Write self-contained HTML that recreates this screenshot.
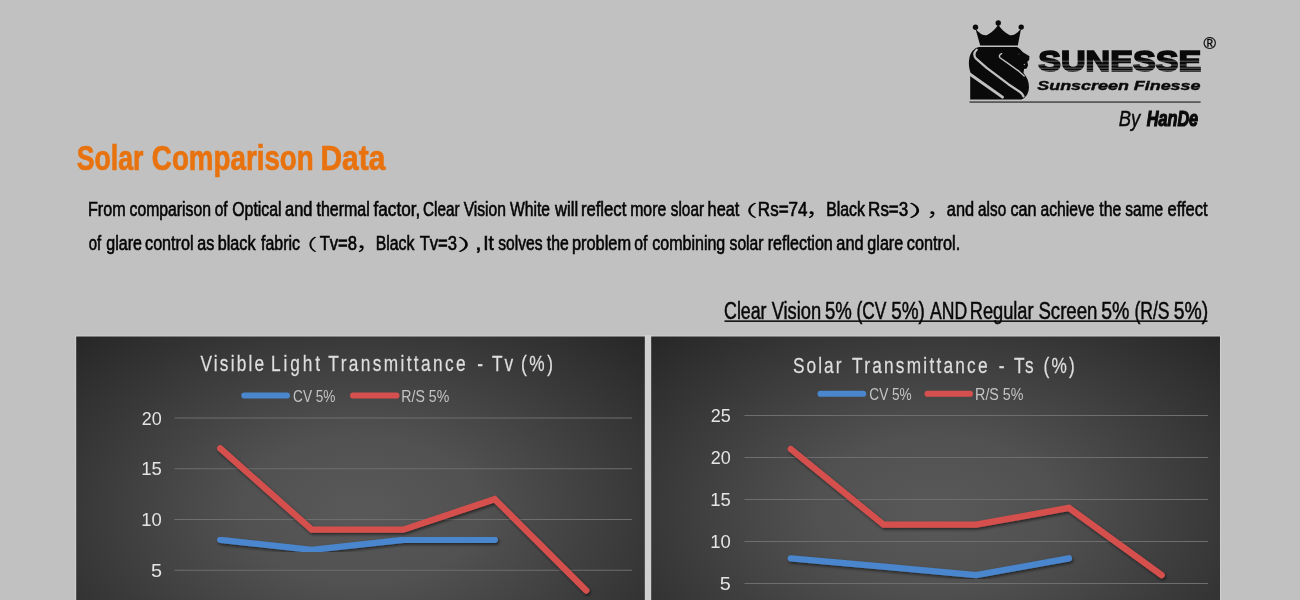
<!DOCTYPE html>
<html lang="en"><head><meta charset="utf-8"><title>Solar Comparison Data</title>
<style>
html,body{margin:0;padding:0;background:#c1c1c1;}
body{width:1300px;height:600px;overflow:hidden;position:relative;font-family:"Liberation Sans","Noto Sans CJK SC",sans-serif;}
svg{position:absolute;left:0;top:0;display:block;}
svg text{font-family:"Liberation Sans","Noto Sans CJK SC",sans-serif;white-space:pre;}
</style></head><body>
<svg width="1300" height="600" viewBox="0 0 1300 600">
<rect width="1300" height="600" fill="#c1c1c1"/>
<g id="logo">
<path fill="#0a0a0a" d="M975.4,28.6 C979,33.5 984,36.6 987.5,34.8 C992,32.6 996,28.5 998.25,24.6 C1000.5,28.5 1004.5,32.6 1009,34.8 C1012.5,36.6 1017.5,33.5 1021.1,28.6 L1017.8,45.6 L980.2,45.6 Z"/>
<circle cx="975.5" cy="27.3" r="2.7" fill="#0a0a0a"/>
<circle cx="998.25" cy="23.0" r="2.7" fill="#0a0a0a"/>
<circle cx="1021.2" cy="27.1" r="2.7" fill="#0a0a0a"/>
<g transform="translate(965,40) scale(0.10835)">
<path fill="#0a0a0a" d="M130,65 L480,65 C505,78 520,100 535,112 L595,150 L592,185 L575,200 L582,232 L570,262 L545,268 L540,305 C575,345 592,390 590,440 C588,490 565,530 520,550 L48,550 L48,322 L58,318 C38,270 30,220 40,170 C50,110 90,70 130,65 Z"/>
<path fill="none" stroke="#c1c1c1" stroke-width="21" stroke-linecap="round" stroke-linejoin="round" d="M108,90 C84,112 80,142 100,170 L200,258 L400,408 L505,478 C525,492 535,503 540,520"/>
<path fill="none" stroke="#c1c1c1" stroke-width="27" stroke-linecap="round" d="M50,318 L346,527"/>
<path fill="none" stroke="#c1c1c1" stroke-width="13" stroke-linecap="round" stroke-linejoin="round" d="M338,126 C316,136 312,152 326,166 L400,218 L500,290 L546,332"/>
<circle cx="498" cy="130" r="6" fill="#555"/><circle cx="548" cy="226" r="7" fill="#999"/>
</g>
<rect x="969.5" y="101.55" width="231.1" height="1.0" fill="#0a0a0a"/>
<text x="1038.22" y="71.20" font-size="29.6" textLength="162.91" lengthAdjust="spacingAndGlyphs" fill="#0a0a0a" font-weight="700" stroke="#0a0a0a" stroke-width="1.7" stroke-linejoin="miter">SUNESSE</text>
<rect x="1036" y="60.8" width="166" height="0.6" fill="#c1c1c1" opacity="0.75"/>
<rect x="1036" y="64.7" width="166" height="0.6" fill="#c1c1c1" opacity="0.75"/>
<rect x="1036" y="67.8" width="166" height="0.6" fill="#c1c1c1" opacity="0.75"/>
<rect x="1036" y="70.3" width="166" height="0.5" fill="#c1c1c1" opacity="0.75"/>
<text x="1203.44" y="48.90" font-size="16.6" textLength="12.52" lengthAdjust="spacingAndGlyphs" fill="#0a0a0a" stroke="#0a0a0a" stroke-width="0.3">®</text>
<text x="1037.28" y="89.60" font-size="13.0" textLength="163.22" lengthAdjust="spacingAndGlyphs" fill="#0a0a0a" font-weight="700" font-style="italic" stroke="#0a0a0a" stroke-width="0.4">Sunscreen Finesse</text>
<text x="1118.63" y="126.20" font-size="22.3" textLength="21.54" lengthAdjust="spacingAndGlyphs" fill="#0a0a0a" font-style="italic" stroke="#0a0a0a" stroke-width="0.45">By</text>
<text x="1146.71" y="125.70" font-size="21.2" textLength="51.44" lengthAdjust="spacingAndGlyphs" fill="#0a0a0a" font-weight="700" font-style="italic" stroke="#0a0a0a" stroke-width="1.2">HanDe</text>
</g>
<text x="76.73" y="170.00" font-size="35.5" textLength="66.67" lengthAdjust="spacingAndGlyphs" fill="#e8720e" font-weight="700" stroke="#e8720e" stroke-width="0.7">Solar</text>
<text x="151.86" y="170.00" font-size="35.5" textLength="161.86" lengthAdjust="spacingAndGlyphs" fill="#e8720e" font-weight="700" stroke="#e8720e" stroke-width="0.7">Comparison</text>
<text x="320.50" y="170.00" font-size="35.5" textLength="64.81" lengthAdjust="spacingAndGlyphs" fill="#e8720e" font-weight="700" stroke="#e8720e" stroke-width="0.7">Data</text>
<g id="para">
<text x="87.98" y="215.75" font-size="20" textLength="37.58" lengthAdjust="spacingAndGlyphs" fill="#050505" stroke="#050505" stroke-width="0.62">From</text>
<text x="129.53" y="215.75" font-size="20" textLength="81.49" lengthAdjust="spacingAndGlyphs" fill="#050505" stroke="#050505" stroke-width="0.62">comparison</text>
<text x="214.75" y="215.75" font-size="20" textLength="12.93" lengthAdjust="spacingAndGlyphs" fill="#050505" stroke="#050505" stroke-width="0.62">of</text>
<text x="232.25" y="215.75" font-size="20" textLength="49.31" lengthAdjust="spacingAndGlyphs" fill="#050505" stroke="#050505" stroke-width="0.62">Optical</text>
<text x="285.06" y="215.75" font-size="20" textLength="27.25" lengthAdjust="spacingAndGlyphs" fill="#050505" stroke="#050505" stroke-width="0.62">and</text>
<text x="316.51" y="215.75" font-size="20" textLength="53.31" lengthAdjust="spacingAndGlyphs" fill="#050505" stroke="#050505" stroke-width="0.62">thermal</text>
<text x="373.51" y="215.75" font-size="20" textLength="46.75" lengthAdjust="spacingAndGlyphs" fill="#050505" stroke="#050505" stroke-width="0.62">factor,</text>
<text x="422.97" y="215.75" font-size="20" textLength="36.53" lengthAdjust="spacingAndGlyphs" fill="#050505" stroke="#050505" stroke-width="0.62">Clear</text>
<text x="463.68" y="215.75" font-size="20" textLength="42.33" lengthAdjust="spacingAndGlyphs" fill="#050505" stroke="#050505" stroke-width="0.62">Vision</text>
<text x="509.93" y="215.75" font-size="20" textLength="40.01" lengthAdjust="spacingAndGlyphs" fill="#050505" stroke="#050505" stroke-width="0.62">White</text>
<text x="555.02" y="215.75" font-size="20" textLength="23.09" lengthAdjust="spacingAndGlyphs" fill="#050505" stroke="#050505" stroke-width="0.62">will</text>
<text x="580.89" y="215.75" font-size="20" textLength="45.48" lengthAdjust="spacingAndGlyphs" fill="#050505" stroke="#050505" stroke-width="0.62">reflect</text>
<text x="630.20" y="215.75" font-size="20" textLength="36.00" lengthAdjust="spacingAndGlyphs" fill="#050505" stroke="#050505" stroke-width="0.62">more</text>
<text x="670.82" y="215.75" font-size="20" textLength="33.18" lengthAdjust="spacingAndGlyphs" fill="#050505" stroke="#050505" stroke-width="0.62">sloar</text>
<text x="707.62" y="215.75" font-size="20" textLength="31.75" lengthAdjust="spacingAndGlyphs" fill="#050505" stroke="#050505" stroke-width="0.62">heat</text>
<text x="757.85" y="215.75" font-size="20" textLength="49.64" lengthAdjust="spacingAndGlyphs" fill="#050505" stroke="#050505" stroke-width="0.62">Rs=74</text>
<text x="826.20" y="215.75" font-size="20" textLength="38.78" lengthAdjust="spacingAndGlyphs" fill="#050505" stroke="#050505" stroke-width="0.62">Black</text>
<text x="868.11" y="215.75" font-size="20" textLength="40.14" lengthAdjust="spacingAndGlyphs" fill="#050505" stroke="#050505" stroke-width="0.62">Rs=3</text>
<text x="946.81" y="215.75" font-size="20" textLength="27.25" lengthAdjust="spacingAndGlyphs" fill="#050505" stroke="#050505" stroke-width="0.62">and</text>
<text x="978.10" y="215.75" font-size="20" textLength="28.04" lengthAdjust="spacingAndGlyphs" fill="#050505" stroke="#050505" stroke-width="0.62">also</text>
<text x="1010.57" y="215.75" font-size="20" textLength="25.98" lengthAdjust="spacingAndGlyphs" fill="#050505" stroke="#050505" stroke-width="0.62">can</text>
<text x="1040.59" y="215.75" font-size="20" textLength="53.86" lengthAdjust="spacingAndGlyphs" fill="#050505" stroke="#050505" stroke-width="0.62">achieve</text>
<text x="1099.26" y="215.75" font-size="20" textLength="21.94" lengthAdjust="spacingAndGlyphs" fill="#050505" stroke="#050505" stroke-width="0.62">the</text>
<text x="1125.32" y="215.75" font-size="20" textLength="37.87" lengthAdjust="spacingAndGlyphs" fill="#050505" stroke="#050505" stroke-width="0.62">same</text>
<text x="1167.55" y="215.75" font-size="20" textLength="40.07" lengthAdjust="spacingAndGlyphs" fill="#050505" stroke="#050505" stroke-width="0.62">effect</text>
<text x="88.68" y="250.00" font-size="20" textLength="12.40" lengthAdjust="spacingAndGlyphs" fill="#050505" stroke="#050505" stroke-width="0.62">of</text>
<text x="106.33" y="250.00" font-size="20" textLength="35.64" lengthAdjust="spacingAndGlyphs" fill="#050505" stroke="#050505" stroke-width="0.62">glare</text>
<text x="145.06" y="250.00" font-size="20" textLength="48.52" lengthAdjust="spacingAndGlyphs" fill="#050505" stroke="#050505" stroke-width="0.62">control</text>
<text x="197.32" y="250.00" font-size="20" textLength="17.02" lengthAdjust="spacingAndGlyphs" fill="#050505" stroke="#050505" stroke-width="0.62">as</text>
<text x="217.71" y="250.00" font-size="20" textLength="37.77" lengthAdjust="spacingAndGlyphs" fill="#050505" stroke="#050505" stroke-width="0.62">black</text>
<text x="261.02" y="250.00" font-size="20" textLength="38.89" lengthAdjust="spacingAndGlyphs" fill="#050505" stroke="#050505" stroke-width="0.62">fabric</text>
<text x="319.63" y="250.00" font-size="20" textLength="37.34" lengthAdjust="spacingAndGlyphs" fill="#050505" stroke="#050505" stroke-width="0.62">Tv=8</text>
<text x="375.70" y="250.00" font-size="20" textLength="38.78" lengthAdjust="spacingAndGlyphs" fill="#050505" stroke="#050505" stroke-width="0.62">Black</text>
<text x="419.63" y="250.00" font-size="20" textLength="37.35" lengthAdjust="spacingAndGlyphs" fill="#050505" stroke="#050505" stroke-width="0.62">Tv=3</text>
<text x="475.39" y="250.00" font-size="20" textLength="6.23" lengthAdjust="spacingAndGlyphs" fill="#050505" stroke="#050505" stroke-width="0.62">,</text>
<text x="483.23" y="250.00" font-size="20" textLength="10.66" lengthAdjust="spacingAndGlyphs" fill="#050505" stroke="#050505" stroke-width="0.62">It</text>
<text x="498.32" y="250.00" font-size="20" textLength="44.25" lengthAdjust="spacingAndGlyphs" fill="#050505" stroke="#050505" stroke-width="0.62">solves</text>
<text x="546.76" y="250.00" font-size="20" textLength="21.94" lengthAdjust="spacingAndGlyphs" fill="#050505" stroke="#050505" stroke-width="0.62">the</text>
<text x="571.95" y="250.00" font-size="20" textLength="59.13" lengthAdjust="spacingAndGlyphs" fill="#050505" stroke="#050505" stroke-width="0.62">problem</text>
<text x="634.34" y="250.00" font-size="20" textLength="13.14" lengthAdjust="spacingAndGlyphs" fill="#050505" stroke="#050505" stroke-width="0.62">of</text>
<text x="652.32" y="250.00" font-size="20" textLength="72.96" lengthAdjust="spacingAndGlyphs" fill="#050505" stroke="#050505" stroke-width="0.62">combining</text>
<text x="729.56" y="250.00" font-size="20" textLength="33.95" lengthAdjust="spacingAndGlyphs" fill="#050505" stroke="#050505" stroke-width="0.62">solar</text>
<text x="767.68" y="250.00" font-size="20" textLength="65.11" lengthAdjust="spacingAndGlyphs" fill="#050505" stroke="#050505" stroke-width="0.62">reflection</text>
<text x="836.31" y="250.00" font-size="20" textLength="27.25" lengthAdjust="spacingAndGlyphs" fill="#050505" stroke="#050505" stroke-width="0.62">and</text>
<text x="867.32" y="250.00" font-size="20" textLength="35.90" lengthAdjust="spacingAndGlyphs" fill="#050505" stroke="#050505" stroke-width="0.62">glare</text>
<text x="906.81" y="250.00" font-size="20" textLength="53.43" lengthAdjust="spacingAndGlyphs" fill="#050505" stroke="#050505" stroke-width="0.62">control.</text>
<text x="726.25" y="215.55" font-size="16" textLength="31.66" lengthAdjust="spacingAndGlyphs" fill="#050505" font-family="'Noto Sans CJK SC', sans-serif">（</text>
<text x="805.29" y="215.75" font-size="19" textLength="25.64" lengthAdjust="spacingAndGlyphs" fill="#050505" font-family="'Noto Sans CJK SC', sans-serif">，</text>
<text x="908.12" y="215.55" font-size="16" textLength="36.49" lengthAdjust="spacingAndGlyphs" fill="#050505" font-family="'Noto Sans CJK SC', sans-serif">）</text>
<text x="926.04" y="215.75" font-size="19" textLength="25.64" lengthAdjust="spacingAndGlyphs" fill="#050505" font-family="'Noto Sans CJK SC', sans-serif">，</text>
<text x="290.85" y="249.80" font-size="16" textLength="26.83" lengthAdjust="spacingAndGlyphs" fill="#050505" font-family="'Noto Sans CJK SC', sans-serif">（</text>
<text x="355.29" y="250.00" font-size="19" textLength="25.64" lengthAdjust="spacingAndGlyphs" fill="#050505" font-family="'Noto Sans CJK SC', sans-serif">，</text>
<text x="456.87" y="249.80" font-size="16" textLength="36.49" lengthAdjust="spacingAndGlyphs" fill="#050505" font-family="'Noto Sans CJK SC', sans-serif">）</text>
</g>
<text x="724.10" y="318.75" font-size="23.5" textLength="42.45" lengthAdjust="spacingAndGlyphs" fill="#080808" stroke="#080808" stroke-width="0.5">Clear</text>
<text x="771.67" y="318.75" font-size="23.5" textLength="49.51" lengthAdjust="spacingAndGlyphs" fill="#080808" stroke="#080808" stroke-width="0.5">Vision</text>
<text x="825.00" y="318.75" font-size="23.5" textLength="26.91" lengthAdjust="spacingAndGlyphs" fill="#080808" stroke="#080808" stroke-width="0.5">5%</text>
<text x="856.42" y="318.75" font-size="23.5" textLength="29.90" lengthAdjust="spacingAndGlyphs" fill="#080808" stroke="#080808" stroke-width="0.5">(CV</text>
<text x="891.24" y="318.75" font-size="23.5" textLength="33.68" lengthAdjust="spacingAndGlyphs" fill="#080808" stroke="#080808" stroke-width="0.5">5%)</text>
<text x="929.97" y="318.75" font-size="23.5" textLength="37.13" lengthAdjust="spacingAndGlyphs" fill="#080808" stroke="#080808" stroke-width="0.5">AND</text>
<text x="969.76" y="318.75" font-size="23.5" textLength="63.80" lengthAdjust="spacingAndGlyphs" fill="#080808" stroke="#080808" stroke-width="0.5">Regular</text>
<text x="1038.40" y="318.75" font-size="23.5" textLength="59.06" lengthAdjust="spacingAndGlyphs" fill="#080808" stroke="#080808" stroke-width="0.5">Screen</text>
<text x="1101.22" y="318.75" font-size="23.5" textLength="28.23" lengthAdjust="spacingAndGlyphs" fill="#080808" stroke="#080808" stroke-width="0.5">5%</text>
<text x="1134.41" y="318.75" font-size="23.5" textLength="35.15" lengthAdjust="spacingAndGlyphs" fill="#080808" stroke="#080808" stroke-width="0.5">(R/S</text>
<text x="1173.72" y="318.75" font-size="23.5" textLength="34.48" lengthAdjust="spacingAndGlyphs" fill="#080808" stroke="#080808" stroke-width="0.5">5%)</text>
<rect x="724.5" y="320.4" width="483" height="1.5" fill="#080808"/>
<defs>
<radialGradient id="cg1" gradientUnits="userSpaceOnUse" cx="0" cy="0" r="1" gradientTransform="translate(360.5,510) scale(402,250)">
<stop offset="0" stop-color="#595959"/><stop offset="0.3" stop-color="#515151"/><stop offset="1" stop-color="#262626"/></radialGradient>
<radialGradient id="cg2" gradientUnits="userSpaceOnUse" cx="0" cy="0" r="1" gradientTransform="translate(935.6,510) scale(402,250)">
<stop offset="0" stop-color="#595959"/><stop offset="0.3" stop-color="#515151"/><stop offset="1" stop-color="#262626"/></radialGradient>
<filter id="sh" x="-5%" y="-20%" width="110%" height="140%"><feDropShadow dx="1.2" dy="1.8" stdDeviation="1.6" flood-color="#000" flood-opacity="0.55"/></filter>
</defs>
<rect x="644.8" y="335" width="6.4" height="265" fill="#d2d2d2"/>
<rect x="75.2" y="335.5" width="1145.8" height="265" fill="#d0d0d0"/>
<g id="chart1">
<rect x="76.2" y="336.5" width="568.5999999999999" height="264" fill="url(#cg1)"/>
<rect x="174.5" y="417.5" width="457.5" height="1" fill="#6e6e6e"/>
<rect x="174.5" y="468.25" width="457.5" height="1" fill="#6e6e6e"/>
<rect x="174.5" y="519.0" width="457.5" height="1" fill="#6e6e6e"/>
<rect x="174.5" y="569.75" width="457.5" height="1" fill="#6e6e6e"/>
<text x="141.80" y="424.50" font-size="17.8" textLength="20.01" lengthAdjust="spacingAndGlyphs" fill="#e4e4e4">20</text>
<text x="141.29" y="475.25" font-size="17.8" textLength="20.59" lengthAdjust="spacingAndGlyphs" fill="#e4e4e4">15</text>
<text x="141.29" y="526.00" font-size="17.8" textLength="20.53" lengthAdjust="spacingAndGlyphs" fill="#e4e4e4">10</text>
<text x="150.91" y="576.75" font-size="17.8" textLength="11.03" lengthAdjust="spacingAndGlyphs" fill="#e4e4e4">5</text>
<polyline points="220.25,539.80 311.75,549.95 403.25,539.80 494.75,539.80" fill="none" stroke="#4a86cd" stroke-width="6.3" stroke-linecap="round" stroke-linejoin="miter" filter="url(#sh)"/>
<polyline points="220.25,448.45 311.75,529.65 403.25,529.65 494.75,499.20 586.25,590.55" fill="none" stroke="#d5504e" stroke-width="6.3" stroke-linecap="round" stroke-linejoin="miter" filter="url(#sh)"/>
<text transform="translate(200.42,371.25) scale(0.8,1)" font-size="21.6" letter-spacing="2.748" fill="#dedede" stroke="#dedede" stroke-width="0.25">Visible</text>
<text transform="translate(271.08,371.25) scale(0.8,1)" font-size="21.6" letter-spacing="3.617" fill="#dedede" stroke="#dedede" stroke-width="0.25">Light</text>
<text transform="translate(328.36,371.25) scale(0.8,1)" font-size="21.6" letter-spacing="2.961" fill="#dedede" stroke="#dedede" stroke-width="0.25">Transmittance</text>
<text transform="translate(477.23,371.25) scale(0.8,1)" font-size="21.6" letter-spacing="0.000" fill="#dedede" stroke="#dedede" stroke-width="0.25">-</text>
<text transform="translate(492.11,371.25) scale(0.8,1)" font-size="21.6" letter-spacing="2.190" fill="#dedede" stroke="#dedede" stroke-width="0.25">Tv</text>
<text transform="translate(520.93,371.25) scale(0.8,1)" font-size="21.6" letter-spacing="3.294" fill="#dedede" stroke="#dedede" stroke-width="0.25">(%)</text>
<line x1="244.35" y1="395.5" x2="286.9" y2="395.5" stroke="#4a86cd" stroke-width="6.2" stroke-linecap="round"/>
<line x1="353.1" y1="395.5" x2="396.4" y2="395.5" stroke="#d5504e" stroke-width="6.2" stroke-linecap="round"/>
<text x="293.06" y="402.00" font-size="17.4" textLength="42.43" lengthAdjust="spacingAndGlyphs" fill="#c4c4c4">CV 5%</text>
<text x="401.34" y="402.00" font-size="17.4" textLength="47.91" lengthAdjust="spacingAndGlyphs" fill="#c4c4c4">R/S 5%</text>
</g>
<g id="chart2">
<rect x="651.2" y="336.5" width="568.8" height="264" fill="url(#cg2)"/>
<rect x="744.5" y="415.0" width="463.5" height="1" fill="#6e6e6e"/>
<rect x="744.5" y="457.0" width="463.5" height="1" fill="#6e6e6e"/>
<rect x="744.5" y="499.0" width="463.5" height="1" fill="#6e6e6e"/>
<rect x="744.5" y="541.0" width="463.5" height="1" fill="#6e6e6e"/>
<rect x="744.5" y="583.0" width="463.5" height="1" fill="#6e6e6e"/>
<text x="710.69" y="422.00" font-size="17.8" textLength="20.06" lengthAdjust="spacingAndGlyphs" fill="#e4e4e4">25</text>
<text x="710.70" y="464.00" font-size="17.8" textLength="20.01" lengthAdjust="spacingAndGlyphs" fill="#e4e4e4">20</text>
<text x="710.19" y="506.00" font-size="17.8" textLength="20.59" lengthAdjust="spacingAndGlyphs" fill="#e4e4e4">15</text>
<text x="710.19" y="548.00" font-size="17.8" textLength="20.53" lengthAdjust="spacingAndGlyphs" fill="#e4e4e4">10</text>
<text x="719.81" y="590.00" font-size="17.8" textLength="11.03" lengthAdjust="spacingAndGlyphs" fill="#e4e4e4">5</text>
<polyline points="790.85,558.30 883.55,566.70 976.25,575.10 1068.95,558.30" fill="none" stroke="#4a86cd" stroke-width="6.3" stroke-linecap="round" stroke-linejoin="miter" filter="url(#sh)"/>
<polyline points="790.85,449.10 883.55,524.70 976.25,524.70 1068.95,507.90 1161.65,575.10" fill="none" stroke="#d5504e" stroke-width="6.3" stroke-linecap="round" stroke-linejoin="miter" filter="url(#sh)"/>
<text transform="translate(792.97,373.00) scale(0.8,1)" font-size="21.6" letter-spacing="2.572" fill="#dedede" stroke="#dedede" stroke-width="0.25">Solar</text>
<text transform="translate(852.11,373.00) scale(0.8,1)" font-size="21.6" letter-spacing="2.779" fill="#dedede" stroke="#dedede" stroke-width="0.25">Transmittance</text>
<text transform="translate(998.73,373.00) scale(0.8,1)" font-size="21.6" letter-spacing="0.000" fill="#dedede" stroke="#dedede" stroke-width="0.25">-</text>
<text transform="translate(1014.11,373.00) scale(0.8,1)" font-size="21.6" letter-spacing="2.896" fill="#dedede" stroke="#dedede" stroke-width="0.25">Ts</text>
<text transform="translate(1043.43,373.00) scale(0.8,1)" font-size="21.6" letter-spacing="2.825" fill="#dedede" stroke="#dedede" stroke-width="0.25">(%)</text>
<line x1="820.6" y1="393.75" x2="863.15" y2="393.75" stroke="#4a86cd" stroke-width="6.2" stroke-linecap="round"/>
<line x1="927.6" y1="393.75" x2="969.9" y2="393.75" stroke="#d5504e" stroke-width="6.2" stroke-linecap="round"/>
<text x="869.31" y="399.50" font-size="17.4" textLength="42.43" lengthAdjust="spacingAndGlyphs" fill="#c4c4c4">CV 5%</text>
<text x="975.08" y="399.50" font-size="17.4" textLength="48.43" lengthAdjust="spacingAndGlyphs" fill="#c4c4c4">R/S 5%</text>
</g>
</svg>
</body></html>
